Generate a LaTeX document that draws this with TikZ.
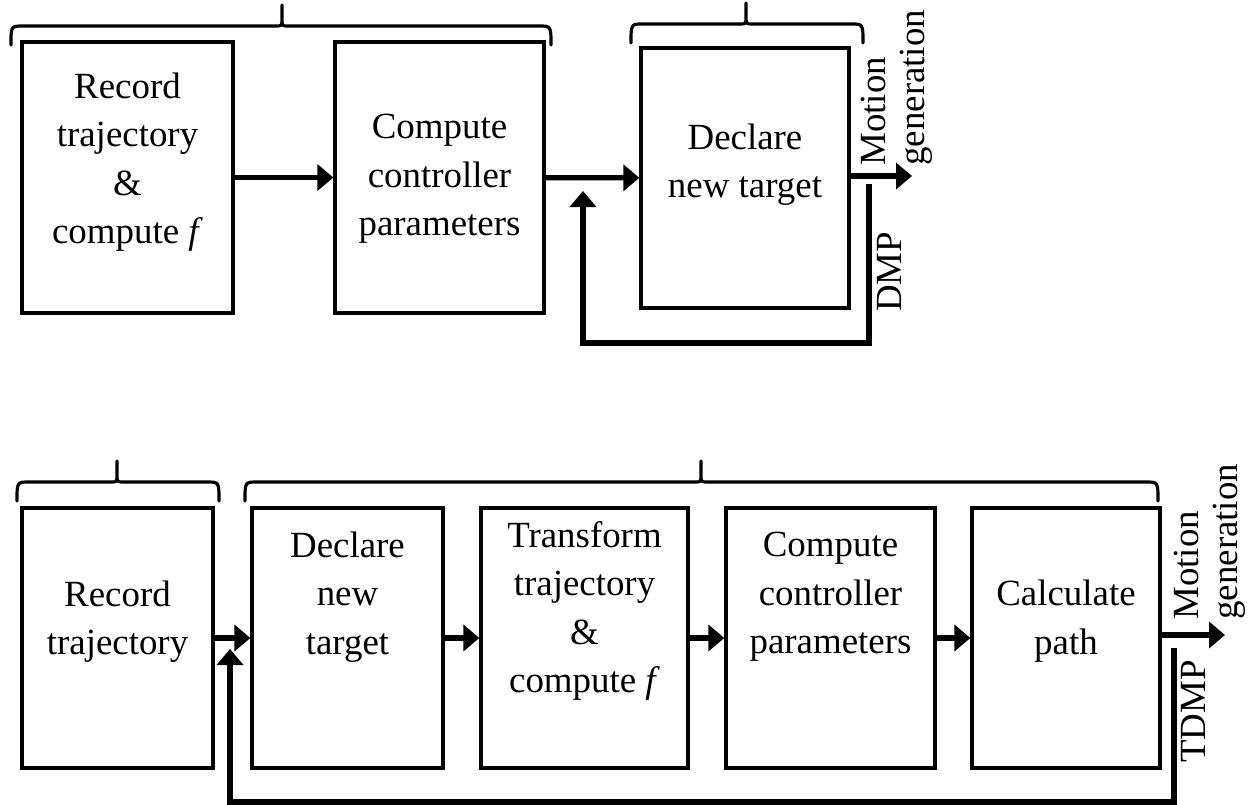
\documentclass[tikz,border=0pt]{standalone}
\usepackage{fontspec}
\setmainfont{Liberation Serif}
\usetikzlibrary{arrows.meta}

% group brace: left x, right x, middle x, bar y
\newcommand{\grpbrace}[4]{%
  \draw[brace line] (#1,#4+19) .. controls (#1,#4) .. (#1+12,#4) -- (#3-6,#4)
    .. controls (#3,#4) .. (#3,#4-8) -- (#3,#4-21)
    (#3,#4-8) .. controls (#3,#4) .. (#3+6,#4) -- (#2-12,#4)
    .. controls (#2,#4) .. (#2,#4+19);}

\begin{document}
\begin{tikzpicture}[x=0.02cm,y=-0.02cm,>={Triangle[length=0.32cm,width=0.52cm]},
  block/.style={rectangle,draw,line width=1.9pt,minimum height=5.2cm,inner sep=0pt},
  label text/.style={align=center,inner sep=0pt,font=\fontsize{21}{27.5}\selectfont},
  side text/.style={rotate=90,inner sep=0pt,align=left,font=\fontsize{21}{22.5}\selectfont},
  flow/.style={->,line width=3pt},
  loop back/.style={->,line width=3.7pt},
  brace line/.style={line width=1.8pt,line cap=round}]

  \useasboundingbox (0,0) rectangle (1252,805);

  % DMP
  \node[block,minimum width=4.22cm,minimum height=5.42cm] (rec) at (127.5,177.5) {};
  \node[block,minimum width=4.18cm,minimum height=5.42cm] (ctrl) at (439.5,177.5) {};
  \node[block,minimum width=4.16cm] (goal) at (745,178) {};

  \node[label text] (rec txt) at (127.5,162) {Record\\trajectory\\\&\\compute \textit{f}};
  \node[label text] (ctrl txt) at (439.5,179) {Compute\\controller\\parameters};
  \node[label text] (goal txt) at (745,165) {Declare\\new target};

  \coordinate (out1) at (912,176);
  \coordinate (fb1 start) at (869,184);
  \coordinate (fb1 corner) at (869,343);
  \coordinate (fb1 end) at (583,191);

  \path[flow] (rec) edge (ctrl)
    (ctrl) edge (goal);
  \draw[flow] (goal.east |- out1) -- (out1);
  \draw[loop back] (fb1 start) -- (fb1 corner) -| (fb1 end);

  \node[side text,anchor=south west] (gen1) at (933,166) {Motion\\generation};
  \node[side text,anchor=base west] (dmp) at (901,312) {DMP};

  \grpbrace{11}{551}{282}{26}
  \grpbrace{631}{863}{746}{24}

  % TDMP
  \node[block,minimum width=3.82cm] (rec2) at (117.5,638) {};
  \node[block,minimum width=3.82cm] (goal2) at (347.5,638) {};
  \node[block,minimum width=4.14cm] (shape2) at (584.5,638) {};
  \node[block,minimum width=4.18cm] (ctrl2) at (830.5,638) {};
  \node[block,minimum width=3.76cm] (path2) at (1066,638) {};

  \node[label text] (rec2 txt) at (117.5,622) {Record\\trajectory};
  \node[label text] (goal2 txt) at (347.5,597) {Declare\\new\\target};
  \node[label text] (shape2 txt) at (584.5,611) {Transform\\trajectory\\\&\\compute \textit{f}};
  \node[label text] (ctrl2 txt) at (830.5,597) {Compute\\controller\\parameters};
  \node[label text] (path2 txt) at (1066,621) {Calculate\\path};

  \coordinate (out2) at (1225,635);
  \coordinate (fb2 start) at (1174,648);
  \coordinate (fb2 corner) at (1174,802);
  \coordinate (fb2 end) at (230,649);

  \path[flow] (rec2) edge (goal2)
    (goal2) edge (shape2)
    (shape2) edge (ctrl2)
    (ctrl2) edge (path2);
  \draw[flow] (path2.east |- out2) -- (out2);
  \draw[loop back] (fb2 start) -- (fb2 corner) -| (fb2 end);

  \node[side text,anchor=south west] (gen2) at (1246,620) {Motion\\generation};
  \node[side text,anchor=base west] (tdmp) at (1205,763) {TDMP};

  \grpbrace{17}{219}{117}{482}
  \grpbrace{245}{1158}{701}{482}
\end{tikzpicture}
\end{document}
